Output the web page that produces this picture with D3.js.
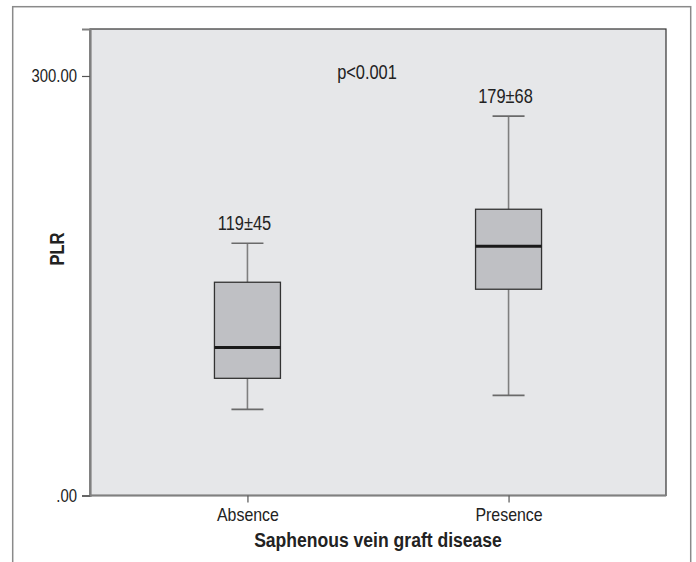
<!DOCTYPE html>
<html>
<head>
<meta charset="utf-8">
<script src="https://cdn.jsdelivr.net/npm/d3@7"></script>
<style>
  html, body { margin: 0; padding: 0; background: #fff; }
  svg { display: block; }
  text { font-family: "Liberation Sans Narrow", "Liberation Sans", Arial, sans-serif; fill: #222; }
</style>
</head>
<body>
<svg id="chart" width="696" height="562"></svg>
<script>
// ---- data ----
const categories = ["Absence", "Presence"];
const whiskerLow  = [61.6, 71.6];
const q1          = [83.8, 147.5];
const median      = [105.9, 178.2];
const q3          = [152.5, 204.7];
const whiskerHigh = [180.4, 271.3];
const boxLabels   = ["119\u00b145", "179\u00b168"];
const yTickValues = [0, 300];
const yTickLabels = [".00", "300.00"];
const pValueText  = "p<0.001";
const xTitle = "Saphenous vein graft disease";
const yTitle = "PLR";

// ---- layout ----
const svg = d3.select("#chart");
const plot = { left: 90, right: 666, top: 29, bottom: 495.5 };

const y = d3.scaleLinear().domain([0, 333.6]).range([plot.bottom, plot.top]);
const x = d3.scalePoint().domain(categories).range([plot.left, plot.right]).padding(0.603);

// condensed look: squeeze text horizontally to a share of its natural width
function condense(sel, factor) {
  sel.each(function () {
    const w = this.getComputedTextLength();
    d3.select(this).attr("textLength", w * factor).attr("lengthAdjust", "spacingAndGlyphs");
  });
}

// outer frame
svg.append("rect")
  .attr("x", 12.7).attr("y", 6.7).attr("width", 678).attr("height", 600)
  .attr("fill", "none").attr("stroke", "#8a8a8a").attr("stroke-width", 1.5);

// plot background
svg.append("rect")
  .attr("x", plot.left).attr("y", plot.top)
  .attr("width", plot.right - plot.left).attr("height", plot.bottom - plot.top)
  .attr("fill", "#e6e7e9").attr("stroke", "#333").attr("stroke-width", 1.2);

// axes
const yAxis = d3.axisLeft(y).tickValues(yTickValues)
  .tickFormat((d, i) => yTickLabels[i]).tickSize(8).tickPadding(5);
const gy = svg.append("g").attr("transform", `translate(${plot.left},0)`).call(yAxis);
gy.select(".domain").attr("stroke", "#808080").attr("stroke-width", 2.2);
gy.selectAll(".tick line").attr("stroke", "#555").attr("stroke-width", 1.2);
gy.selectAll(".tick text").attr("font-size", 17.7).attr("fill", "#222")
  .style("font-family", "'Liberation Sans Narrow', 'Liberation Sans', Arial, sans-serif")
  .call(condense, 0.84);

const xAxis = d3.axisBottom(x).tickSize(7).tickPadding(6);
const gx = svg.append("g").attr("transform", `translate(0,${plot.bottom})`).call(xAxis);
gx.select(".domain").attr("stroke", "#808080").attr("stroke-width", 2.2)
  .attr("d", `M${plot.left},0H${plot.right}`);
gx.selectAll(".tick line").attr("stroke", "#555").attr("stroke-width", 1.2);
gx.selectAll(".tick text").attr("font-size", 17.7).attr("fill", "#222")
  .attr("dy", "0.71em").attr("y", 13)
  .style("font-family", "'Liberation Sans Narrow', 'Liberation Sans', Arial, sans-serif")
  .call(condense, 0.9);

// boxes
const boxW = 66, capW = 32;
const g = svg.append("g");
categories.forEach((c, i) => {
  const cx = x(c);
  g.append("line").attr("x1", cx).attr("x2", cx)
    .attr("y1", y(whiskerHigh[i])).attr("y2", y(q3[i]))
    .attr("stroke", "#7f7f7f").attr("stroke-width", 1.6);
  g.append("line").attr("x1", cx).attr("x2", cx)
    .attr("y1", y(q1[i])).attr("y2", y(whiskerLow[i]))
    .attr("stroke", "#7f7f7f").attr("stroke-width", 1.6);
  [whiskerHigh[i], whiskerLow[i]].forEach(v => {
    g.append("line").attr("x1", cx - capW / 2).attr("x2", cx + capW / 2)
      .attr("y1", y(v)).attr("y2", y(v))
      .attr("stroke", "#6a6a6a").attr("stroke-width", 1.6);
  });
  g.append("rect")
    .attr("x", cx - boxW / 2).attr("y", y(q3[i]))
    .attr("width", boxW).attr("height", y(q1[i]) - y(q3[i]))
    .attr("fill", "#bfc0c4").attr("stroke", "#333").attr("stroke-width", 1.3);
  g.append("line").attr("x1", cx - boxW / 2).attr("x2", cx + boxW / 2)
    .attr("y1", y(median[i])).attr("y2", y(median[i]))
    .attr("stroke", "#1a1a1a").attr("stroke-width", 3);
  g.append("text").attr("x", cx - 3).attr("y", y(whiskerHigh[i]) - 13)
    .attr("text-anchor", "middle").attr("font-size", 20).text(boxLabels[i])
    .call(condense, 0.82);
});

// p-value
svg.append("text").attr("x", 367).attr("y", 79)
  .attr("text-anchor", "middle").attr("font-size", 20).text(pValueText)
  .call(condense, 0.82);

// titles
svg.append("text").attr("x", (plot.left + plot.right) / 2).attr("y", 547)
  .attr("text-anchor", "middle").attr("font-size", 19.5).attr("font-weight", "bold")
  .text(xTitle).call(condense, 0.9);

svg.append("text").attr("transform", "translate(64,249) rotate(-90)")
  .attr("text-anchor", "middle").attr("font-size", 19.5).attr("font-weight", "bold")
  .text(yTitle).call(condense, 0.85);
</script>
</body>
</html>
